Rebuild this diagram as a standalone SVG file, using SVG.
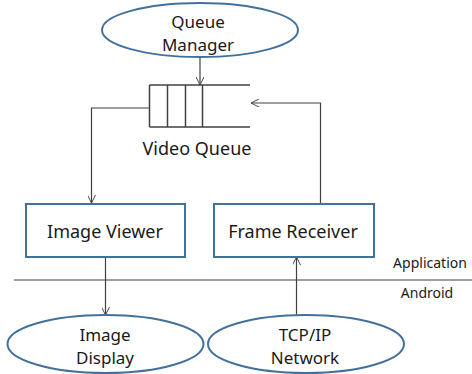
<svg xmlns="http://www.w3.org/2000/svg" width="472" height="374" viewBox="0 0 472 374">
  <defs>
    <marker id="arrow" viewBox="0 0 10 10" refX="10" refY="5" markerWidth="8" markerHeight="8" markerUnits="userSpaceOnUse" orient="auto">
      <path d="M0,0 L10,5 L0,10" fill="none" stroke="#404040" stroke-width="1.2"/>
    </marker>
  </defs>
  <style>
    .node { fill: #ffffff; stroke: #41719c; stroke-width: 2; }
    .lbl { font-family: "Noto Sans", "Open Sans", sans-serif; font-size: 18px; fill: #1a1a1a; text-anchor: middle; }
    .ell { font-family: "Noto Sans", "Open Sans", sans-serif; font-size: 17px; fill: #1a1a1a; text-anchor: middle; }
    .layer { font-family: "Noto Sans", "Open Sans", sans-serif; font-size: 14px; fill: #1a1a1a; text-anchor: middle; }
    .wire { fill: none; stroke: #404040; stroke-width: 1.2; }
    .q { fill: none; stroke: #404040; stroke-width: 1.5; }
  </style>
  <rect width="472" height="374" fill="#ffffff"/>

  <g id="connectors">
    <line class="wire" x1="200" y1="57" x2="200" y2="85" marker-end="url(#arrow)"/>
    <polyline class="wire" points="149,108 91.5,108 91.5,203" marker-end="url(#arrow)"/>
    <polyline class="wire" points="320.5,203 320.5,103 251,103" marker-end="url(#arrow)"/>
    <line class="wire" x1="105.5" y1="257" x2="105.5" y2="315" marker-end="url(#arrow)"/>
    <line class="wire" x1="296.5" y1="315" x2="296.5" y2="257" marker-end="url(#arrow)"/>
    <line class="wire" x1="14" y1="280" x2="472" y2="280"/>
  </g>

  <g id="queue-manager">
    <ellipse class="node" cx="200" cy="30" rx="98" ry="27"/>
    <text class="ell" x="198" y="27.5">Queue</text>
    <text class="ell" x="198" y="50.5">Manager</text>
  </g>

  <g id="video-queue">
    <line class="q" x1="149.5" y1="85" x2="250" y2="85"/>
    <line class="q" x1="149.5" y1="127" x2="250" y2="127"/>
    <line class="q" x1="149.5" y1="85" x2="149.5" y2="127"/>
    <line class="q" x1="167.5" y1="85" x2="167.5" y2="127"/>
    <line class="q" x1="185.5" y1="85" x2="185.5" y2="127"/>
    <line class="q" x1="202.5" y1="85" x2="202.5" y2="127"/>
    <text class="lbl" x="197" y="155">Video Queue</text>
  </g>

  <g id="image-viewer">
    <rect class="node" x="26" y="204" width="159" height="53"/>
    <text class="lbl" x="105" y="238">Image Viewer</text>
  </g>

  <g id="frame-receiver">
    <rect class="node" x="214" y="204" width="160" height="53"/>
    <text class="lbl" x="293" y="238">Frame Receiver</text>
  </g>

  <g id="layers">
    <text class="layer" x="430" y="268">Application</text>
    <text class="layer" x="427" y="298">Android</text>
  </g>

  <g id="image-display">
    <ellipse class="node" cx="105.5" cy="344" rx="98" ry="29"/>
    <text class="ell" x="105" y="340.5">Image</text>
    <text class="ell" x="105" y="363.5">Display</text>
  </g>

  <g id="tcp-ip-network">
    <ellipse class="node" cx="306" cy="344" rx="98" ry="29"/>
    <text class="ell" x="305" y="340.5">TCP/IP</text>
    <text class="ell" x="305" y="363.5">Network</text>
  </g>
</svg>
